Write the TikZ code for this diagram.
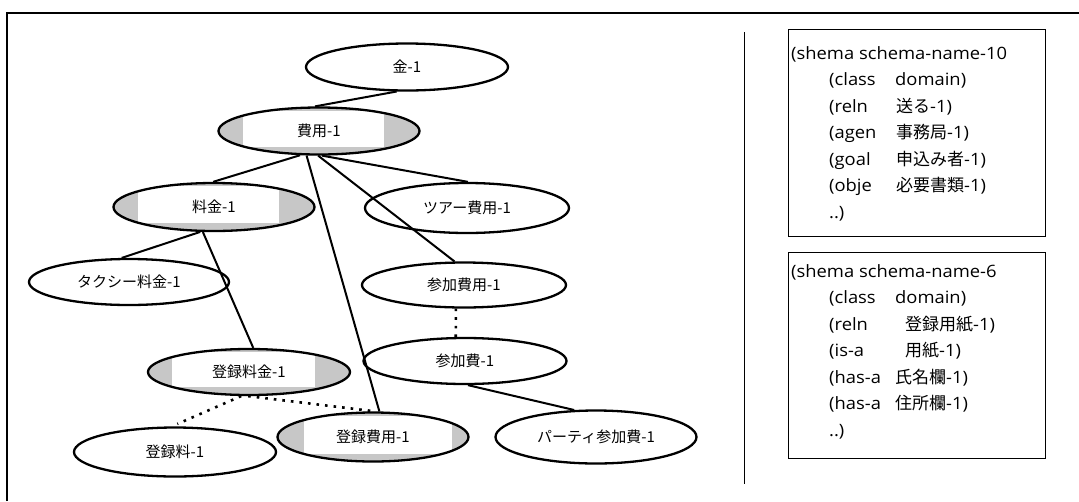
\documentclass[tikz,border=0pt]{standalone}
\usepackage{fontspec}
\usetikzlibrary{shapes.geometric}
\setmainfont{Noto Sans CJK JP}
\newfontfamily\jp{Noto Sans CJK JP}
\newfontfamily\lat[FakeStretch=1.08]{Open Sans}
\newfontfamily\jpw{Noto Sans CJK JP}
\begin{document}
\begin{tikzpicture}[x=1pt,y=-1pt,
  plain/.style={ellipse, draw, line width=2.3pt, inner sep=0pt,
    font=\jp\fontsize{15}{17}\selectfont},
  shaded/.style n args={2}{plain, fill=black!22,
    path picture={\fill[white] ([xshift=#1, yshift=8pt]path picture bounding box.south west)
      rectangle ([xshift=-#2, yshift=-3pt]path picture bounding box.north east);}},
  link/.style={line width=2pt},
  dotlink/.style={line width=2.6pt, dash pattern=on 2.6pt off 6pt},
  frameline/.style={line width=1.2pt},
  schbox/.style={draw, line width=1.2pt, anchor=north west, inner sep=0pt},
  key/.style={anchor=base west, inner sep=0pt, font=\lat\fontsize{17}{19}\selectfont},
  val/.style={anchor=base west, inner sep=0pt, font=\lat\fontsize{17}{19}\selectfont}
]
\useasboundingbox (0,0) rectangle (1079,501);
\fill[white] (0,0) rectangle (1079,501);
% frame
\draw[frameline] (7,501) -- (7,13) -- (1079,13);
\draw[line width=1pt] (744,32) -- (744,484);

% nodes
\node[plain, minimum width=202pt, minimum height=47pt] (kin) at (407,67) {金-1};
\node[shaded={24pt}{36pt}, minimum width=201pt, minimum height=47pt] (hiyou) at (319,131) {費用-1};
\node[shaded={24pt}{36pt}, minimum width=201pt, minimum height=48pt] (ryokin) at (214,207) {料金-1};
\node[plain, minimum width=204pt, minimum height=50pt] (tour) at (467,208) {ツアー費用-1};
\node[plain, minimum width=200pt, minimum height=46pt] (taxi) at (129,282) {タクシー料金-1};
\node[plain, minimum width=204pt, minimum height=45pt] (sankahiyou) at (464,285) {参加費用-1};
\node[plain, minimum width=203pt, minimum height=46pt] (sankahi) at (465,361) {参加費-1};
\node[shaded={24pt}{35pt}, minimum width=202pt, minimum height=46pt] (trkryokin) at (249,372) {登録料金-1};
\node[shaded={26pt}{17pt}, minimum width=191pt, minimum height=49pt] (trkhiyou) at (373,437) {登録費用-1};
\node[plain, minimum width=202pt, minimum height=49pt] (trkryo) at (175,452) {登録料-1};
\node[plain, minimum width=201pt, minimum height=53pt] (party) at (596,437) {パーティ参加費-1};

% connectors
\draw[link] (kin.-113) -- (hiyou.99);
\draw[link] (hiyou.-128) -- (ryokin.92);
\draw[link] (hiyou.-117) -- (trkhiyou.76);
\draw[link] (hiyou.-92) -- (sankahiyou.112);
\draw[link] (hiyou.-83) -- (tour.88);
\draw[link] (ryokin.-119) -- (taxi.107);
\draw[link] (ryokin.-114) -- (trkryokin.80);
\draw[dotlink] (sankahiyou.-109) -- (sankahi.111);
\draw[link] (sankahi.-83) -- (party.129);
\draw[dotlink, shorten >=6pt] (trkryokin.-108) -- (trkryo.97);
\draw[dotlink] (trkryokin.-92) -- (trkhiyou.85);

% schema boxes
\node[schbox, minimum width=257pt, minimum height=207pt] (box1) at (788,29) {};
\node[key] (b1l1) at (791,59) {(shema schema-name-10};
\node[key] (b1k2) at (829,85.5) {(class};
\node[val] (b1v2) at (895,85.5) {domain)};
\node[key] (b1k3) at (829,112) {(reln};
\node[val] (b1v3) at (896,112) {{\jpw 送る}-1)};
\node[key] (b1k4) at (829,138.5) {(agen};
\node[val] (b1v4) at (896,138.5) {{\jpw 事務局}-1)};
\node[key] (b1k5) at (829,165) {(goal};
\node[val] (b1v5) at (896,165) {{\jpw 申込み者}-1)};
\node[key] (b1k6) at (829,191.5) {(obje};
\node[val] (b1v6) at (896,191.5) {{\jpw 必要書類}-1)};
\node[key] (b1k7) at (829,218) {..)};

\node[schbox, minimum width=257pt, minimum height=206pt] (box2) at (788,252) {};
\node[key] (b2l1) at (791,277) {(shema schema-name-6};
\node[key] (b2k2) at (829,303.5) {(class};
\node[val] (b2v2) at (895,303.5) {domain)};
\node[key] (b2k3) at (829,330) {(reln};
\node[val] (b2v3) at (905,330) {{\jpw 登録用紙}-1)};
\node[key] (b2k4) at (829,356.5) {(is-a};
\node[val] (b2v4) at (905,356.5) {{\jpw 用紙}-1)};
\node[key] (b2k5) at (829,383) {(has-a};
\node[val] (b2v5) at (895,383) {{\jpw 氏名欄}-1)};
\node[key] (b2k6) at (829,409.5) {(has-a};
\node[val] (b2v6) at (895,409.5) {{\jpw 住所欄}-1)};
\node[key] (b2k7) at (829,436) {..)};
\end{tikzpicture}
\end{document}
